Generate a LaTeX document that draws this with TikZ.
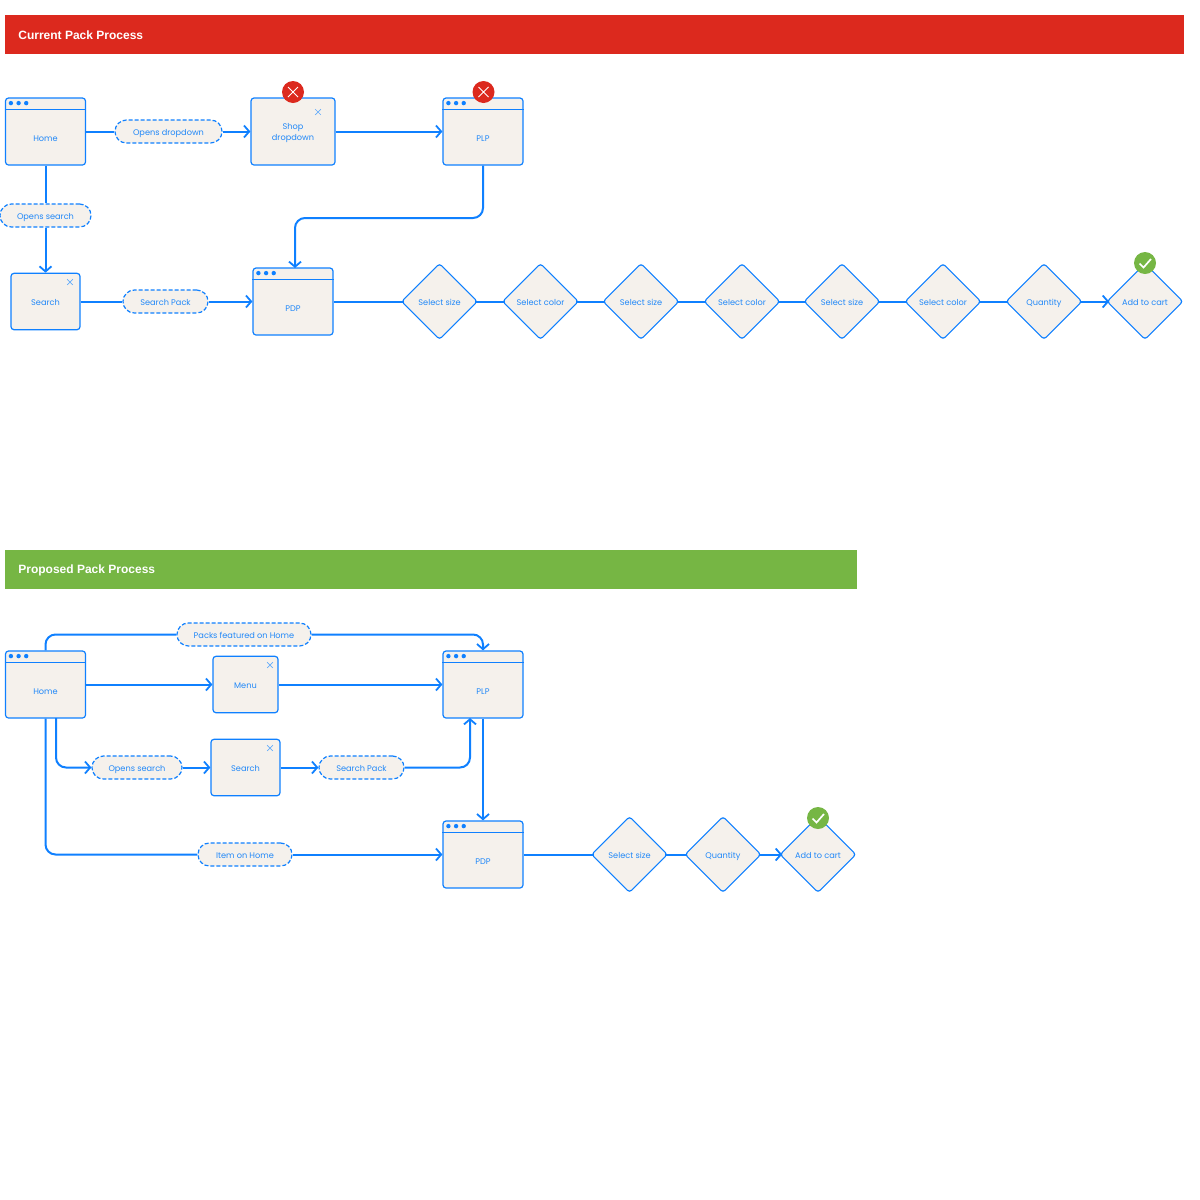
\documentclass[tikz,border=0pt]{standalone}
\usepackage{fontspec}
\setmainfont{Poppins}
\newfontfamily\bannerfont{Liberation Sans}
\usetikzlibrary{arrows.meta,positioning,shapes.geometric}

\definecolor{flowblue}{HTML}{0F80FF}
\definecolor{flowtext}{HTML}{2188F8}
\definecolor{boxfill}{HTML}{F5F1EC}
\definecolor{redbar}{HTML}{DC291E}
\definecolor{greenbar}{HTML}{76B644}

\tikzset{
	boxtext/.style={text=flowtext,align=center,font=\fontsize{4.1}{5.5}\selectfont},
	boxbase/.style={draw=flowblue,fill=boxfill,line width=0.6pt,inner sep=0pt,boxtext,text height=4.5pt,text depth=0.5pt},
	winbox/.style={draw=flowblue,fill=boxfill,line width=0.6pt,inner sep=0pt,rounded corners=1.5pt,
		minimum width=40pt,minimum height=33.5pt,label={[boxtext,yshift=-3.6pt]center:#1}},
	popbox/.style={boxbase,rounded corners=1.5pt,minimum height=28.2pt},
	pill/.style={boxbase,dashed,dash pattern=on 2pt off 1pt,rounded corners=5.7pt,minimum height=11.5pt},
	choice/.style={boxbase,diamond,aspect=1,rounded corners=1.5pt,minimum width=37.3pt,minimum height=37.3pt,outer sep=-0.7pt},
	flow/.style={draw=flowblue,line width=1pt,rounded corners=5pt},
	flowarrow/.style={flow,-{Straight Barb[length=2.6pt,width=6pt,line width=0.9pt]}},
	badge/.style={circle,inner sep=0pt,minimum size=11pt},
	bannertext/.style={anchor=west,inner sep=0pt,text=white,font=\bannerfont\bfseries\fontsize{6}{7}\selectfont,yshift=0.1pt}
}

% title bar of a window box
\newcommand{\winbar}[1]{
	\draw[flowblue,line width=0.5pt] ([yshift=-5.85pt]#1.north west)--([yshift=-5.85pt]#1.north east);
	\foreach \d in {3,6.85,10.65}
		\fill[flowblue] ([xshift=\d pt,yshift=-2.85pt]#1.north west) circle (1.1pt);
}

\begin{document}
\begin{tikzpicture}[x=0.5pt,y=-0.5pt]
	
	\useasboundingbox (0,0) rectangle (1200,1200);
	
	% ---- current process
	\fill[redbar] (5,15) rectangle (1184,53.5);
	\node[bannertext] (curtitle) at (18,35.5) {Current Pack Process};
	
	\node[winbox=Home] (home) at (45.5,131.5) {};
	\node[winbox=PLP] (plp) at (483,131.5) {};
	\node[winbox=PDP] (pdp) at (293,301.5) {};
	\node[draw=flowblue,fill=boxfill,line width=0.6pt,rounded corners=1.5pt,inner sep=0pt,minimum width=42pt,minimum height=33.5pt,
		label={[boxtext,yshift=-0.6pt]center:{Shop\\dropdown}}] (shop) at (293,131.5) {};
	\node[popbox,minimum width=34.5pt] (search) at (45.5,301.5) {Search};
	
	\node[pill,minimum width=53.5pt] (pdrop) at (168.5,131.5) {Opens dropdown};
	\node[pill,minimum width=45.5pt] (psearch) at (45.5,215.5) {Opens search};
	\node[pill,minimum width=42.5pt] (ppack) at (165.5,301.5) {Search Pack};
	
	\foreach \x/\t [count=\i] in {439.5/Select size,540.5/Select color,641/Select size,742/Select color,842/Select size,943/Select color,1044/Quantity,1145/Add to cart}
		\node[choice] (c\i) at (\x,301.5) {\t};
	
	\winbar{home}
	\winbar{plp}
	\winbar{pdp}
	
	\draw[flow] (home)--(pdrop);
	\draw[flowarrow] (pdrop)--(shop);
	\draw[flowarrow] (shop)--(plp);
	\coordinate (pdptop) at (295,268);
	\draw[flowarrow] (plp.south)--(483,218)--(295,218)--(pdptop);
	\draw[flow] (home)--(psearch);
	\draw[flowarrow] (psearch)--(search);
	\draw[flow] (search)--(ppack);
	\draw[flowarrow] (ppack)--(pdp);
	\draw[flow] (pdp)--(c1);
	\foreach \a/\b in {1/2,2/3,3/4,4/5,5/6,6/7}
		\draw[flow] (c\a)--(c\b);
	\draw[flowarrow] (c7)--(c8);
	
	% ---- proposed process
	\fill[greenbar] (5,550) rectangle (857,588.5);
	\node[bannertext] (protitle) at (18,570.5) {Proposed Pack Process};
	
	\node[winbox=Home] (home2) at (45.5,684.5) {};
	\node[winbox=PLP] (plp2) at (483,684.5) {};
	\node[winbox=PDP] (pdp2) at (483,854.5) {};
	\node[popbox,minimum width=32.5pt] (menu) at (245.5,684.5) {Menu};
	\node[popbox,minimum width=34.5pt] (search2) at (245.5,767.5) {Search};
	
	\node[pill,minimum width=67pt] (pfeat) at (244,634.5) {Packs featured on Home};
	\node[pill,minimum width=45pt] (psearch2) at (137,767.5) {Opens search};
	\node[pill,minimum width=42.5pt] (ppack2) at (361.5,767.5) {Search Pack};
	\node[pill,minimum width=47pt] (pitem) at (245,854.5) {Item on Home};
	
	\foreach \x/\t [count=\i] in {629.5/Select size,723/Quantity,818/Add to cart}
		\node[choice] (e\i) at (\x,854.5) {\t};
	
	\winbar{home2}
	\winbar{plp2}
	\winbar{pdp2}
	
	\coordinate (homeb) at (56,718);
	\coordinate (plpb) at (470,718);
	\draw[flow] (home2.north)--(45.5,634.5)--(pfeat);
	\draw[flowarrow] (pfeat)--(483,634.5)--(plp2.north);
	\draw[flowarrow] (home2)--(menu);
	\draw[flowarrow] (menu)--(plp2);
	\draw[flowarrow] (homeb)--(56,767.5)--(psearch2);
	\draw[flowarrow] (psearch2)--(search2);
	\draw[flowarrow] (search2)--(ppack2);
	\draw[flowarrow] (ppack2)--(470,767.5)--(plpb);
	\draw[flowarrow] (plp2)--(pdp2);
	\draw[flow] (home2.south)--(45.5,854.5)--(pitem);
	\draw[flowarrow] (pitem)--(pdp2);
	\draw[flow] (pdp2)--(e1);
	\draw[flow] (e1)--(e2);
	\draw[flowarrow] (e2)--(e3);
	
	% close marks
	\foreach \x/\y in {318/112,70/282,270/665,270/748}
		\draw[flowtext!70,line width=0.35pt] (\x-2.8,\y-2.8)--(\x+2.8,\y+2.8) (\x-2.8,\y+2.8)--(\x+2.8,\y-2.8);
	
	% badges
	\node[badge,fill=redbar] (bad1) at (293,92) {};
	\node[badge,fill=redbar] (bad2) at (483.5,92) {};
	\node[badge,fill=greenbar] (good1) at (1145,263) {};
	\node[badge,fill=greenbar] (good2) at (818,818) {};
	\foreach \x/\y in {293/92,483.5/92}
		\draw[white,line width=0.5pt] (\x-5,\y-5)--(\x+5,\y+5) (\x-5,\y+5)--(\x+5,\y-5);
	\foreach \x/\y in {1145/263,818/818}
		\draw[white,line width=0.85pt] (\x-5.5,\y+0.5)--(\x-1.5,\y+4.5)--(\x+6,\y-4);
	
\end{tikzpicture}
\end{document}
